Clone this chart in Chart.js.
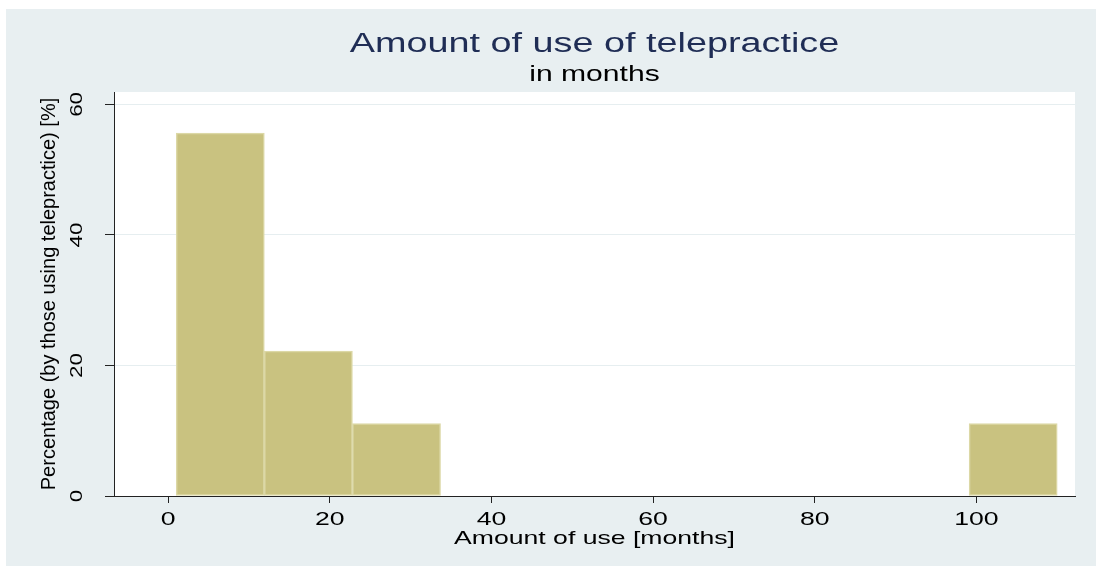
<!DOCTYPE html>
<html>
<head>
<meta charset="utf-8">
<script src="https://cdn.jsdelivr.net/npm/chart.js@4.4.1/dist/chart.umd.min.js"></script>
<style>
    html, body {
        margin: 0;
        padding: 0;
        background: #ffffff;
        overflow: hidden;
    }

    .frame {
        position: absolute;
        left: 6px;
        top: 9px;
        width: 1090px;
        height: 557px;
        background: #e8eff1;
    }
</style>
</head>
<body>
<div class="frame"><canvas id="chart" width="1090" height="557"></canvas></div>
<script>
// histogram bins (months) and share of respondents per bin (%)
const binEdges = [1, 11.9, 22.8, 33.7, 44.6, 55.5, 66.4, 77.3, 88.2, 99.1, 110];
const percents = [55.6, 22.2, 11.1, 0, 0, 0, 0, 0, 0, 11.1];
const xTicks = [0, 20, 40, 60, 80, 100];
const yTicks = [0, 20, 40, 60];

const titleText = 'Amount of use of telepractice';
const subtitleText = 'in months';
const xTitle = 'Amount of use [months]';
const yTitle = 'Percentage (by those using telepractice) [%]';

const FONT = "'Liberation Sans', Arial, sans-serif";
const textStretch = 1.4; // the source renders its text wide

// white plot region on the tinted graph region
const plotBackground = {
    id: 'plotBackground',
    beforeDraw(chart) {
        const { ctx, chartArea: a } = chart;
        ctx.save();
        ctx.fillStyle = '#ffffff';
        ctx.fillRect(a.left, a.top, a.width, a.height);
        ctx.restore();
    }
};

// widen glyphs along the text direction, except the y axis title
const wideText = {
    id: 'wideText',
    beforeDraw(chart) {
        const ctx = chart.ctx;
        if (ctx._wide) return;
        const fill = ctx.fillText.bind(ctx);
        ctx.fillText = function (text, x, y, maxWidth) {
            const k = text === yTitle ? 1 : textStretch;
            ctx.save();
            ctx.translate(x, y);
            ctx.scale(k, 1);
            if (maxWidth === undefined) fill(text, 0, 0);
            else fill(text, 0, 0, maxWidth / k);
            ctx.restore();
        };
        ctx._wide = true;
    }
};

const bars = percents.map((p, i) => ({ x: (binEdges[i] + binEdges[i + 1]) / 2, y: p }));

new Chart(document.getElementById('chart').getContext('2d'), {
    type: 'bar',
    data: {
        datasets: [{
            data: bars,
            backgroundColor: '#c9c280',
            borderColor: '#dcd8a6',
            borderWidth: 1.5,
            borderSkipped: false,
            barPercentage: 1,
            categoryPercentage: 1,
        }]
    },
    plugins: [plotBackground, wideText],
    options: {
        responsive: false,
        animation: false,
        events: [],
        layout: { padding: { left: 0, right: 21, top: 0, bottom: 16 } },
        plugins: {
            legend: { display: false },
            tooltip: { enabled: false },
            title: {
                display: true,
                text: titleText,
                fullSize: false,
                color: '#1f2d55',
                font: { family: FONT, size: 27, weight: 'normal' },
                padding: { top: 19.7, bottom: 0 },
            },
            subtitle: {
                display: true,
                text: subtitleText,
                fullSize: false,
                color: '#000000',
                font: { family: FONT, size: 21.5, weight: 'normal' },
                padding: { top: 0.7, bottom: 4.4 },
            },
        },
        scales: {
            x: {
                type: 'linear',
                min: -6.7,
                max: 112.2,
                offset: false,
                afterBuildTicks: s => { s.ticks = xTicks.map(v => ({ value: v })); },
                afterFit: s => { s.height = 54; },
                grid: { offset: false, drawOnChartArea: false, drawTicks: true, tickLength: 7, tickColor: '#222222' },
                border: { display: true, color: '#222222', width: 1 },
                ticks: { color: '#000000', padding: 5, font: { family: FONT, size: 19 } },
                title: {
                    display: true,
                    text: xTitle,
                    color: '#000000',
                    font: { family: FONT, size: 19 },
                    padding: { top: 0, bottom: 0 },
                },
            },
            y: {
                type: 'linear',
                min: 0,
                max: 61.9,
                afterBuildTicks: s => { s.ticks = yTicks.map(v => ({ value: v })); },
                afterFit: s => { s.width = 108; },
                grid: { color: '#e6eef0', lineWidth: 1, drawTicks: true, tickLength: 9, tickColor: '#222222' },
                border: { display: true, color: '#222222', width: 1 },
                ticks: {
                    color: '#000000',
                    minRotation: 90,
                    maxRotation: 90,
                    crossAlign: 'center',
                    padding: 19,
                    font: { family: FONT, size: 16 },
                },
                title: {
                    display: true,
                    text: yTitle,
                    color: '#000000',
                    font: { family: FONT, size: 20 },
                    padding: { top: 31, bottom: 0 },
                },
            },
        },
    },
});
</script>
</body>
</html>
